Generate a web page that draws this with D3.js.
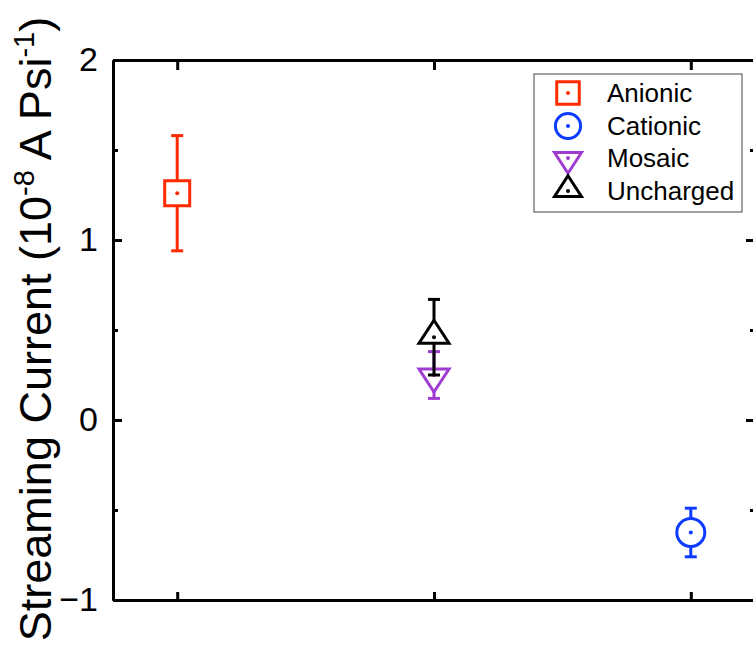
<!DOCTYPE html>
<html>
<head>
<meta charset="utf-8">
<script src="https://cdn.jsdelivr.net/npm/d3@7"></script>
<style>
  body { margin: 0; background: #fff; }
  text { font-family: "Liberation Sans", Arial, sans-serif; }
</style>
</head>
<body>
<svg id="chart"></svg>
<script>
// data
var groups = ["Anionic", "Cationic", "Mosaic", "Uncharged"];
var categories = ["a", "b", "c"];
var groupCategory = ["a", "c", "b", "b"];
var means = [1.26, -0.625, 0.25, 0.46];
var errors = [0.32, 0.135, 0.13, 0.21];
var colors = ["#ff2a00", "#0d3bff", "#a03cd2", "#000000"];
var shapes = ["square", "circle", "down", "up"];
var yTicks = [-1, 0, 1, 2];
var yMinor = [-0.5, 0.5, 1.5];

var width = 753, height = 650;
var margin = { top: 60, right: -2, bottom: 50, left: 113 };

var svg = d3.select("#chart")
  .attr("width", width)
  .attr("height", height);

var x = d3.scalePoint()
  .domain(categories)
  .range([margin.left, width - margin.right])
  .padding(0.25);

var y = d3.scaleLinear()
  .domain([-1, 2])
  .range([height - margin.bottom, margin.top]);

var xL = margin.left, xR = width - margin.right;

// symbol paths
function symbolPath(type) {
  if (type == "square") return "M-12.5,-12.5H12.5V12.5H-12.5Z";
  if (type == "circle") return "M14,0A14,14 0 1,1 -14,0A14,14 0 1,1 14,0Z";
  if (type == "up") return "M0,-17L15,6L-15,6Z";
  return "M0,17L15,-6L-15,-6Z";
}

function styleAxis(g) {
  g.select(".domain").attr("stroke", "#000").attr("stroke-width", 3);
  g.selectAll(".tick line").attr("stroke", "#000").attr("stroke-width", 3);
}

// left axis
var left = svg.append("g")
  .attr("transform", "translate(" + xL + ",0)")
  .call(d3.axisLeft(y).tickValues(yTicks).tickSize(-9).tickSizeOuter(0)
    .tickPadding(15).tickFormat(d3.format("d")));
styleAxis(left);
left.selectAll(".tick text")
  .style("font-size", "34px")
  .attr("fill", "#000");

svg.append("g")
  .attr("transform", "translate(" + xL + ",0)")
  .call(d3.axisLeft(y).tickValues(yMinor).tickSize(-5).tickSizeOuter(0).tickFormat(""))
  .call(styleAxis);

// right axis
svg.append("g")
  .attr("transform", "translate(" + xR + ",0)")
  .call(d3.axisRight(y).tickValues([0, 1]).tickSize(-9).tickSizeOuter(0).tickFormat(""))
  .call(styleAxis);
svg.append("g")
  .attr("transform", "translate(" + xR + ",0)")
  .call(d3.axisRight(y).tickValues(yMinor).tickSize(-5).tickSizeOuter(0).tickFormat(""))
  .call(styleAxis);

// top & bottom axes
svg.append("g")
  .attr("transform", "translate(0," + y(2) + ")")
  .call(d3.axisTop(x).tickSize(-10).tickSizeOuter(0).tickFormat(""))
  .call(styleAxis);
svg.append("g")
  .attr("transform", "translate(0," + y(-1) + ")")
  .call(d3.axisBottom(x).tickSize(-8).tickSizeOuter(0).tickFormat(""))
  .call(styleAxis);

// y title
var title = svg.append("text")
  .attr("transform", "translate(51," + 329 + ") rotate(-90)")
  .attr("text-anchor", "middle")
  .style("font-size", "45px")
  .attr("fill", "#000");
title.append("tspan").text("Streaming Current (10");
title.append("tspan").attr("dy", -17).style("font-size", "29px").text("-8");
title.append("tspan").attr("dy", 17).text(" A Psi");
title.append("tspan").attr("dy", -17).style("font-size", "29px").text("-1");
title.append("tspan").attr("dy", 17).text(")");

// points with error bars
var plot = svg.append("g");
groups.forEach(function(name, i) {
  var cx = x(groupCategory[i]);
  var g = plot.append("g").attr("stroke", colors[i]).attr("stroke-width", 3);
  g.append("line")
    .attr("x1", cx).attr("x2", cx)
    .attr("y1", y(means[i] + errors[i])).attr("y2", y(means[i] - errors[i]));
  [means[i] + errors[i], means[i] - errors[i]].forEach(function(v) {
    g.append("line")
      .attr("x1", cx - 6).attr("x2", cx + 6)
      .attr("y1", y(v)).attr("y2", y(v));
  });
  g.append("path")
    .attr("d", symbolPath(shapes[i]))
    .attr("transform", "translate(" + cx + "," + y(means[i]) + ")")
    .attr("fill", "#fff");
  g.append("circle")
    .attr("cx", cx).attr("cy", y(means[i]))
    .attr("r", 2).attr("fill", colors[i]).attr("stroke", "none");
});

// legend
var legend = svg.append("g");
legend.append("rect")
  .attr("x", 534).attr("y", 74)
  .attr("width", 208).attr("height", 138)
  .attr("fill", "#fff")
  .attr("stroke", "#444")
  .attr("stroke-width", 1);

var legendY = [93, 126, 158, 191];
groups.forEach(function(name, i) {
  var item = legend.append("g").attr("transform", "translate(568," + legendY[i] + ")");
  item.append("path")
    .attr("d", symbolPath(shapes[i]))
    .attr("transform", "scale(0.9)")
    .attr("fill", "#fff")
    .attr("stroke", colors[i])
    .attr("stroke-width", 3.3);
  item.append("circle").attr("r", 2).attr("fill", colors[i]);
  item.append("text")
    .attr("x", 39)
    .attr("dy", "0.35em")
    .style("font-size", "26px")
    .attr("fill", "#000")
    .text(name);
});
</script>
</body>
</html>
